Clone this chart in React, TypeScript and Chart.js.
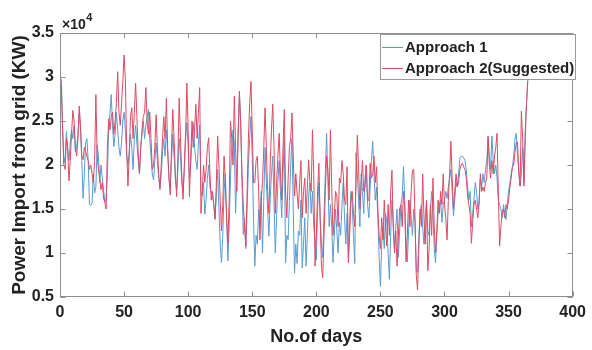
import React, { useEffect, useRef } from "react";
import { Chart, registerables } from "chart.js";

Chart.register(...registerables);

// Values in units of 10^4 kW, one per day (day 1 .. 365)
const approach1: number[] = [
  2.98, 2.45, 2.02, 2.10, 2.38, 2.20, 2.05, 2.25, 2.40, 2.30,
  2.45, 2.15, 2.20, 2.35, 2.59, 2.40, 2.05, 1.62, 1.90, 2.25,
  2.30, 2.05, 1.55, 1.54, 1.56, 1.90, 1.68, 1.75, 2.23, 2.10,
  1.80, 2.00, 1.85, 1.72, 1.58, 1.62, 1.90, 2.45, 2.59, 2.80,
  2.45, 2.21, 2.35, 2.60, 2.40, 2.20, 2.10, 2.25, 2.50, 2.60,
  2.40, 2.10, 2.00, 2.15, 2.35, 2.20, 1.95, 2.30, 2.45, 2.25,
  2.05, 1.90, 2.20, 2.35, 2.50, 2.30, 2.45, 2.55, 2.63, 2.30,
  2.10, 1.90, 1.83, 2.05, 2.25, 2.05, 1.85, 1.75, 1.90, 2.15,
  2.30, 2.10, 2.40, 2.15, 1.85, 1.75, 2.05, 2.35, 2.10, 1.85,
  1.72, 1.95, 2.30, 2.10, 1.80, 1.68, 1.95, 2.30, 2.48, 2.20,
  1.85, 2.00, 2.30, 2.48, 2.20, 2.05, 1.95, 2.25, 2.45, 1.70,
  1.65, 1.80, 1.44, 1.60, 1.85, 2.00, 1.75, 1.70, 1.65, 1.55,
  1.40, 1.65, 1.95, 1.50, 1.10, 0.89, 1.20, 1.70, 1.90, 1.40,
  0.91, 1.30, 1.85, 2.20, 2.40, 2.25, 1.45, 1.90, 2.40, 2.80,
  2.50, 1.80, 1.21, 1.40, 1.05, 1.50, 2.00, 2.30, 2.55, 2.10,
  1.40, 0.85, 1.20, 1.10, 1.50, 1.30, 1.70, 1.00, 1.60, 2.20,
  1.80, 1.50, 1.19, 1.60, 1.90, 2.10, 1.55, 1.00, 1.40, 1.80,
  2.05, 1.70, 1.40, 1.90, 2.30, 0.89, 1.20, 1.15, 1.60, 2.00,
  2.30, 1.50, 0.77, 1.10, 0.88, 1.25, 1.20, 1.60, 0.83, 1.10,
  1.40, 0.85, 1.20, 1.65, 1.80, 1.45, 1.70, 1.30, 1.15, 0.92,
  1.50, 1.80, 1.40, 1.10, 0.95, 1.45, 1.90, 2.36, 1.85, 1.30,
  1.55, 1.30, 0.89, 1.20, 1.50, 1.25, 1.00, 1.35, 1.20, 1.55,
  1.80, 1.40, 1.10, 1.45, 0.95, 1.35, 1.70, 1.55, 1.20, 0.88,
  2.14, 1.90, 1.60, 1.30, 1.90, 1.70, 1.45, 1.85, 2.00, 1.55,
  1.40, 1.75, 2.05, 2.27, 1.90, 1.60, 1.75, 1.40, 0.95, 0.62,
  1.10, 1.30, 1.05, 1.45, 1.35, 1.00, 0.70, 1.20, 1.60, 1.35,
  1.05, 1.30, 1.50, 0.95, 1.25, 1.55, 1.65, 1.98, 1.60, 1.10,
  0.90, 1.25, 1.60, 1.40, 1.20, 1.50, 1.35, 0.80, 0.78, 1.20,
  1.45, 1.55, 1.30, 1.10, 1.40, 1.60, 1.25, 1.20, 1.50, 1.70,
  1.45, 1.05, 0.89, 1.20, 1.45, 1.55, 1.60, 1.35, 1.55, 1.60,
  1.70, 1.62, 1.75, 1.85, 1.95, 1.70, 1.42, 1.60, 1.80, 1.75,
  1.90, 2.08, 2.10, 2.10, 2.08, 2.05, 1.95, 1.75, 1.60, 1.70,
  1.30, 1.45, 1.60, 1.80, 1.70, 1.50, 1.60, 1.85, 1.75, 1.90,
  1.80, 1.95, 2.05, 2.30, 2.10, 1.95, 2.33, 2.05, 1.90, 2.00,
  1.85, 1.60, 1.55, 1.50, 1.40, 1.55, 1.45, 1.38, 1.55, 1.70,
  1.80, 1.90, 1.98, 2.10, 2.30, 2.36, 2.10, 1.95, 1.76, 1.90,
  2.20, 1.80, 2.40, 2.70, 2.97,
];

const approach2: number[] = [
  2.92, 2.40, 2.00, 1.95, 2.30, 2.15, 1.82, 2.05, 2.35, 2.62,
  2.50, 2.20, 2.10, 2.30, 2.67, 2.45, 2.10, 2.06, 2.20, 2.15,
  2.10, 2.05, 1.95, 2.00, 1.90, 1.80, 2.05, 2.80, 2.10, 1.95,
  1.85, 1.72, 1.80, 1.62, 1.57, 1.50, 2.20, 2.52, 2.40, 2.55,
  2.60, 2.35, 2.50, 2.70, 3.06, 2.60, 2.45, 2.70, 2.95, 3.25,
  2.97, 2.20, 1.76, 2.10, 2.55, 2.65, 2.30, 2.60, 2.93, 2.55,
  2.15, 1.90, 2.20, 2.40, 2.55, 2.60, 2.88, 2.50, 2.35, 2.60,
  2.30, 1.95, 2.00, 2.20, 2.57, 2.20, 1.90, 1.72, 2.00, 2.30,
  2.55, 2.30, 2.76, 2.20, 1.85, 1.66, 2.20, 2.63, 2.30, 1.90,
  1.64, 2.10, 2.76, 2.30, 1.90, 1.61, 2.00, 2.36, 2.93, 2.40,
  1.64, 2.10, 2.50, 2.20, 2.40, 2.69, 2.30, 2.60, 2.88, 1.45,
  1.70, 2.00, 1.80, 1.95, 2.20, 2.31, 1.90, 1.60, 1.70, 1.55,
  1.38, 1.80, 2.33, 2.00, 1.60, 1.25, 1.55, 2.10, 1.80, 1.40,
  1.11, 1.60, 2.50, 2.30, 2.00, 2.78, 2.20, 1.70, 2.30, 2.84,
  2.45, 1.90, 1.55, 1.30, 1.08, 1.70, 2.30, 2.70, 2.95, 2.40,
  1.80, 1.80, 2.05, 2.10, 1.70, 1.15, 1.60, 1.80, 2.20, 2.65,
  2.20, 1.70, 1.45, 2.00, 2.40, 2.69, 2.20, 1.45, 1.80, 2.10,
  2.36, 1.90, 1.60, 2.20, 2.63, 1.70, 1.40, 1.85, 2.20, 2.30,
  2.59, 2.10, 1.65, 1.90, 1.68, 1.50, 1.80, 2.05, 1.40, 1.70,
  1.85, 1.45, 1.75, 2.06, 1.80, 1.70, 2.40, 1.90, 0.85, 1.20,
  1.70, 2.02, 1.40, 0.85, 0.72, 1.20, 1.70, 2.10, 1.95, 1.60,
  2.40, 1.75, 1.20, 1.40, 1.70, 1.65, 1.30, 1.85, 1.80, 2.05,
  1.90, 1.60, 1.55, 1.98, 0.89, 1.20, 1.60, 1.70, 1.45, 1.30,
  1.80, 2.34, 1.95, 1.50, 1.80, 2.05, 1.70, 1.75, 2.00, 1.60,
  1.60, 2.02, 1.85, 1.90, 2.10, 1.80, 1.98, 1.50, 1.20, 1.05,
  1.40, 1.15, 1.60, 1.30, 1.08, 1.55, 1.20, 1.70, 1.94, 1.30,
  1.00, 1.25, 0.85, 1.20, 1.50, 1.55, 1.30, 1.70, 1.50, 0.90,
  1.20, 1.60, 1.30, 1.70, 1.94, 1.95, 1.40, 0.75, 0.58, 1.05,
  1.50, 1.30, 1.90, 1.40, 1.10, 1.60, 0.80, 1.05, 1.55, 1.20,
  1.85, 1.30, 1.00, 1.25, 1.60, 1.45, 1.70, 1.55, 1.90, 1.55,
  1.40, 1.15, 1.60, 1.90, 2.27, 1.85, 1.50, 1.70, 1.90, 1.75,
  1.80, 1.95, 2.00, 2.02, 1.98, 1.95, 1.85, 1.65, 1.55, 1.45,
  1.11, 1.35, 1.55, 1.60, 1.50, 1.40, 1.55, 1.90, 1.70, 1.75,
  1.70, 1.80, 1.85, 2.33, 2.00, 1.85, 2.05, 1.90, 2.10, 2.20,
  2.36, 1.70, 1.08, 1.30, 1.45, 1.50, 1.40, 1.55, 1.50, 1.60,
  1.75, 1.85, 1.98, 2.00, 2.15, 2.25, 2.26, 1.90, 1.76, 2.61,
  2.30, 1.76, 2.30, 2.70, 2.95,
];

const seriesLabels = ["Approach 1", "Approach 2(Suggested)"];
const xTicks = [0, 50, 100, 150, 200, 250, 300, 350, 400];
const yTicks = [0.5, 1, 1.5, 2, 2.5, 3, 3.5];
const xTitle = "No.of days";
const yTitle = "Power Import from grid (KW)";

const BLUE = "#5a9bd0";
const RED = "#dc4a62";
const TEXT = "#222222";
const AXIS = "#8e8e8e";
const FONT = '"Liberation Sans", Arial, sans-serif';

const matlabPlugin = {
  id: "matlabDecor",
  afterDatasetsDraw(chart: any) {
    const { ctx, chartArea, scales } = chart;
    const { left, right, top, bottom } = chartArea;
    const x = scales.x;
    const y = scales.y;
    ctx.save();
    ctx.strokeStyle = AXIS;
    ctx.lineWidth = 1;
    const L = Math.round(left) + 0.5;
    const R = Math.round(right) - 0.5;
    const T = Math.round(top) + 0.5;
    const B = Math.round(bottom) - 0.5;
    ctx.strokeRect(L, T, R - L, B - T);
    ctx.beginPath();
    for (const t of xTicks) {
      const px = Math.round(x.getPixelForValue(t)) + 0.5;
      ctx.moveTo(px, B);
      ctx.lineTo(px, B - 5);
      ctx.moveTo(px, T);
      ctx.lineTo(px, T + 5);
    }
    for (const t of yTicks) {
      const py = Math.round(y.getPixelForValue(t)) + 0.5;
      ctx.moveTo(L, py);
      ctx.lineTo(L + 5, py);
      ctx.moveTo(R, py);
      ctx.lineTo(R - 5, py);
    }
    ctx.stroke();

    // exponent label
    ctx.fillStyle = TEXT;
    ctx.textAlign = "left";
    ctx.textBaseline = "alphabetic";
    ctx.font = `bold 14px ${FONT}`;
    ctx.fillText("×10", 62, 29);
    const w = ctx.measureText("×10").width;
    ctx.font = `bold 11px ${FONT}`;
    ctx.fillText("4", 62 + w + 0.5, 21);

    // legend
    const lx = 380.5, ly = 34.5, lw = 195, lh = 45;
    ctx.fillStyle = "#ffffff";
    ctx.fillRect(lx, ly, lw, lh);
    ctx.strokeStyle = "#9a9a9a";
    ctx.strokeRect(lx, ly, lw, lh);
    const rows = [
      { label: seriesLabels[0], color: BLUE, y: 47.5 },
      { label: seriesLabels[1], color: RED, y: 68.5 },
    ];
    ctx.font = `bold 15px ${FONT}`;
    ctx.textBaseline = "middle";
    for (const r of rows) {
      ctx.strokeStyle = r.color;
      ctx.beginPath();
      ctx.moveTo(382, r.y);
      ctx.lineTo(403, r.y);
      ctx.stroke();
      ctx.fillStyle = TEXT;
      ctx.fillText(r.label, 405, r.y + 0.5);
    }
    ctx.restore();
  },
};

export default function App() {
  const ref = useRef<HTMLCanvasElement | null>(null);
  useEffect(() => {
    if (!ref.current) return;
    const toPoints = (arr: number[]) => arr.map((v, i) => ({ x: i + 1, y: v }));
    const chart = new Chart(ref.current, {
      type: "line",
      data: {
        datasets: [
          {
            label: seriesLabels[1],
            data: toPoints(approach2),
            borderColor: RED,
            borderWidth: 1,
            pointRadius: 0,
            tension: 0,
            order: 0,
          },
          {
            label: seriesLabels[0],
            data: toPoints(approach1),
            borderColor: BLUE,
            borderWidth: 1,
            pointRadius: 0,
            tension: 0,
            order: 1,
          },
        ],
      },
      options: {
        responsive: false,
        animation: false,
        layout: { padding: { top: 33, right: 15, left: 0, bottom: 0 } },
        plugins: { legend: { display: false }, tooltip: { enabled: false } },
        scales: {
          x: {
            type: "linear",
            min: 0,
            max: 400,
            afterBuildTicks: (s: any) => {
              s.ticks = xTicks.map((v) => ({ value: v }));
            },
            afterFit: (s: any) => {
              s.height = 53;
            },
            ticks: {
              color: TEXT,
              padding: 6,
              maxRotation: 0,
              font: { family: FONT, weight: "bold", size: 16 },
            },
            grid: { display: false, drawTicks: false },
            border: { display: false },
            title: {
              display: true,
              text: xTitle,
              color: TEXT,
              padding: { top: 0, bottom: 2 },
              font: { family: FONT, weight: "bold", size: 18 },
            },
          },
          y: {
            type: "linear",
            min: 0.5,
            max: 3.5,
            afterBuildTicks: (s: any) => {
              s.ticks = yTicks.map((v) => ({ value: v }));
            },
            afterFit: (s: any) => {
              s.width = 60;
            },
            ticks: {
              color: TEXT,
              padding: 6,
              font: { family: FONT, weight: "bold", size: 16 },
              callback: (v: any) => String(v),
            },
            grid: { display: false, drawTicks: false },
            border: { display: false },
            title: {
              display: true,
              text: yTitle,
              color: TEXT,
              padding: { top: 8, bottom: 0 },
              font: { family: FONT, weight: "bold", size: 19 },
            },
          },
        },
      },
      plugins: [matlabPlugin],
    });
    return () => chart.destroy();
  }, []);
  return (
    <div style={{ position: "fixed", left: 0, top: 0, width: 592, height: 350, background: "#fff" }}>
      <canvas ref={ref} width={592} height={350} style={{ display: "block" }} />
    </div>
  );
}
